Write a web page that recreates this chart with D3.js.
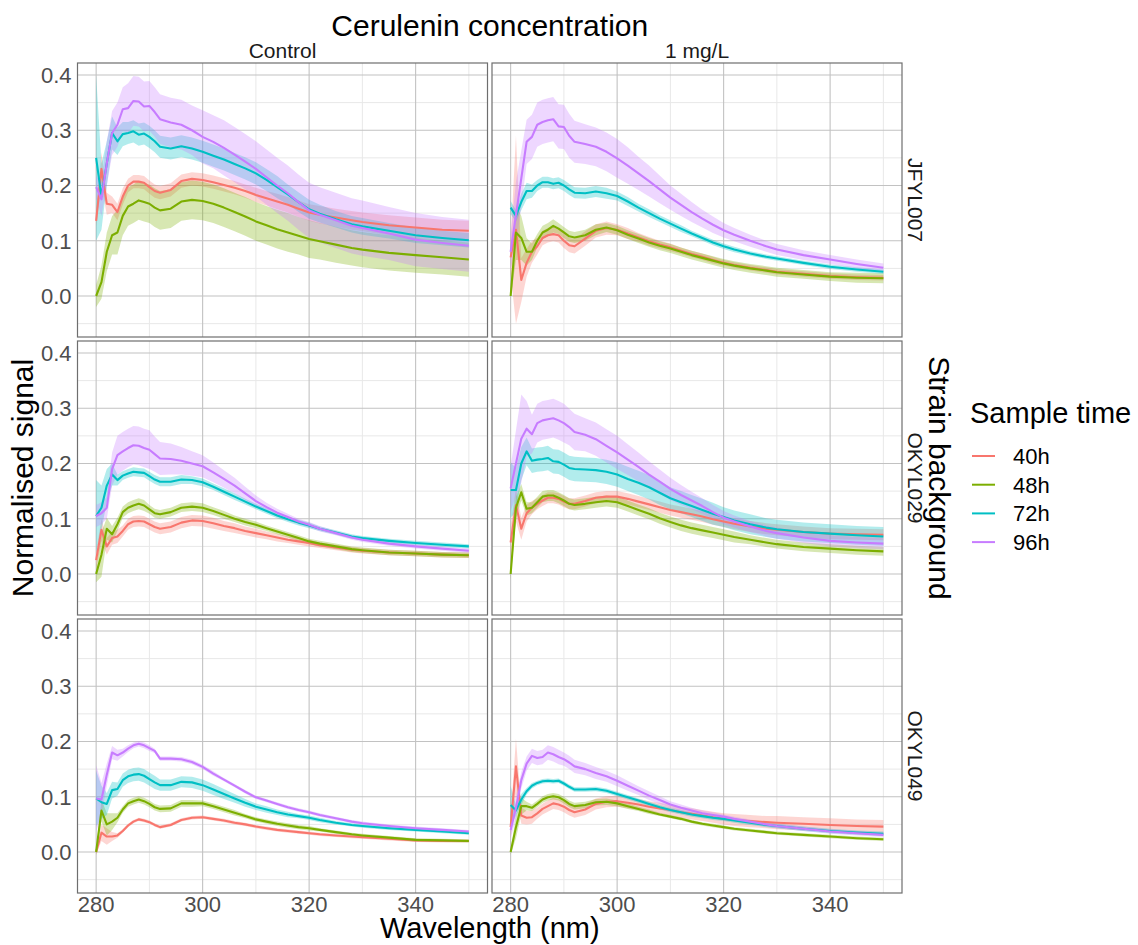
<!DOCTYPE html>
<html>
<head>
<meta charset="utf-8">
<script src="https://cdn.jsdelivr.net/npm/d3@7"></script>
<style>
  body { margin: 0; background: #fff; }
  svg { font-family: "Liberation Sans", Arial, sans-serif; }
</style>
</head>
<body>
<svg id="chart" width="1138" height="945"></svg>
<script>
// wavelength grid (nm)
const wavelength = [280,281,282,283,284,285,286,287,288,289,290,291,292,294,296,298,
  300,302,304,306,308,310,312,314,316,318,320,322,325,328,330,335,340,345,350];

const sampleTimes = ["40h", "48h", "72h", "96h"];
const concentrations = ["Control", "1 mg/L"];
const strains = ["JFYL007", "OKYL029", "OKYL049"];
const xTicks = [280, 300, 320, 340];
const yTicks = [0, 0.1, 0.2, 0.3, 0.4];

// mean signal, one row per sample time (40h, 48h, 72h, 96h)
const jfyl007Control = [
  [0.136,0.23,0.167,0.165,0.152,0.18,0.2,0.207,0.207,0.205,0.197,0.19,0.187,0.192,0.208,0.212,
   0.21,0.206,0.201,0.196,0.19,0.183,0.177,0.171,0.165,0.158,0.151,0.147,0.142,0.137,0.134,0.128,0.124,0.12,0.118],
  [0,0.025,0.08,0.11,0.115,0.145,0.162,0.167,0.173,0.17,0.167,0.16,0.155,0.158,0.171,0.174,
   0.172,0.167,0.16,0.152,0.144,0.135,0.128,0.121,0.115,0.109,0.103,0.099,0.093,0.087,0.084,0.078,0.074,0.07,0.066],
  [0.25,0.18,0.24,0.295,0.28,0.293,0.295,0.298,0.292,0.294,0.288,0.28,0.27,0.267,0.271,0.267,
   0.261,0.254,0.247,0.239,0.231,0.222,0.21,0.197,0.184,0.17,0.157,0.149,0.139,0.13,0.126,0.118,0.11,0.105,0.101],
  [0.197,0.175,0.24,0.295,0.31,0.338,0.34,0.353,0.352,0.343,0.344,0.333,0.32,0.314,0.31,0.3,
   0.288,0.279,0.268,0.256,0.243,0.23,0.215,0.2,0.186,0.17,0.155,0.147,0.137,0.127,0.123,0.113,0.102,0.096,0.091]
];
const jfyl007ControlBand = [
  [0.01,0.03,0.02,0.015,0.015,0.015,0.012,0.012,0.012,0.012,0.012,0.012,0.012,0.012,0.012,0.012,
   0.012,0.012,0.012,0.012,0.012,0.013,0.013,0.014,0.014,0.015,0.015,0.016,0.016,0.017,0.017,0.018,0.018,0.018,0.018],
  [0.02,0.03,0.035,0.035,0.04,0.035,0.035,0.035,0.035,0.035,0.035,0.035,0.035,0.035,0.035,0.035,
   0.035,0.035,0.035,0.035,0.035,0.035,0.035,0.035,0.035,0.034,0.034,0.033,0.033,0.032,0.032,0.032,0.032,0.031,0.031],
  [0.15,0.06,0.04,0.03,0.025,0.022,0.02,0.02,0.02,0.02,0.02,0.02,0.02,0.02,0.02,0.02,
   0.02,0.02,0.02,0.02,0.02,0.02,0.02,0.02,0.018,0.018,0.017,0.016,0.015,0.015,0.015,0.014,0.014,0.013,0.013],
  [0.02,0.03,0.04,0.04,0.04,0.04,0.045,0.045,0.045,0.045,0.045,0.045,0.045,0.045,0.045,0.045,
   0.048,0.048,0.05,0.05,0.05,0.05,0.05,0.05,0.05,0.05,0.05,0.05,0.05,0.05,0.05,0.048,0.048,0.047,0.047]
];

const jfyl007Cer = [
  [0.07,0.12,0.029,0.06,0.08,0.09,0.105,0.11,0.112,0.11,0.1,0.092,0.09,0.104,0.118,0.123,
   0.12,0.113,0.106,0.099,0.093,0.088,0.082,0.076,0.071,0.065,0.06,0.056,0.051,0.047,0.044,0.04,0.036,0.034,0.033],
  [0,0.115,0.105,0.08,0.08,0.1,0.115,0.12,0.127,0.122,0.115,0.108,0.106,0.11,0.12,0.124,
   0.119,0.111,0.104,0.097,0.091,0.086,0.08,0.074,0.069,0.064,0.059,0.055,0.05,0.046,0.043,0.039,0.035,0.033,0.032],
  [0.16,0.145,0.17,0.19,0.19,0.2,0.206,0.206,0.203,0.205,0.2,0.193,0.187,0.186,0.189,0.186,
   0.181,0.171,0.16,0.15,0.14,0.131,0.122,0.113,0.105,0.097,0.09,0.084,0.077,0.071,0.068,0.06,0.053,0.048,0.044],
  [0.08,0.147,0.213,0.279,0.288,0.31,0.315,0.318,0.32,0.307,0.306,0.29,0.279,0.275,0.27,0.261,
   0.249,0.236,0.222,0.208,0.193,0.178,0.165,0.152,0.14,0.129,0.119,0.111,0.1,0.09,0.084,0.074,0.066,0.058,0.051]
];
const jfyl007CerBand = [
  [0.03,0.17,0.04,0.025,0.02,0.015,0.013,0.013,0.013,0.013,0.013,0.013,0.013,0.013,0.012,0.012,
   0.01,0.01,0.008,0.008,0.007,0.007,0.006,0.006,0.006,0.006,0.005,0.005,0.005,0.005,0.005,0.005,0.005,0.005,0.005],
  [0.005,0.05,0.04,0.025,0.015,0.012,0.012,0.012,0.012,0.01,0.01,0.01,0.01,0.01,0.01,0.008,
   0.008,0.008,0.008,0.008,0.008,0.008,0.008,0.008,0.008,0.008,0.008,0.008,0.008,0.008,0.008,0.008,0.008,0.009,0.009],
  [0.012,0.01,0.015,0.015,0.012,0.01,0.01,0.01,0.01,0.01,0.01,0.01,0.01,0.01,0.01,0.01,
   0.008,0.008,0.007,0.007,0.006,0.006,0.006,0.005,0.005,0.005,0.005,0.005,0.004,0.004,0.004,0.004,0.004,0.004,0.004],
  [0.03,0.06,0.05,0.04,0.04,0.04,0.04,0.04,0.04,0.04,0.04,0.04,0.038,0.036,0.035,0.035,
   0.035,0.033,0.03,0.028,0.025,0.022,0.02,0.018,0.016,0.015,0.013,0.012,0.011,0.01,0.01,0.009,0.008,0.008,0.008]
];

const okyl029Control = [
  [0.025,0.08,0.05,0.065,0.068,0.078,0.09,0.095,0.096,0.095,0.09,0.085,0.082,0.085,0.093,0.097,
   0.096,0.092,0.087,0.083,0.078,0.074,0.07,0.066,0.062,0.059,0.056,0.052,0.048,0.044,0.042,0.039,0.037,0.035,0.034],
  [0,0.035,0.082,0.072,0.09,0.112,0.12,0.124,0.127,0.124,0.117,0.11,0.108,0.112,0.12,0.122,
   0.12,0.114,0.107,0.1,0.094,0.089,0.083,0.077,0.071,0.065,0.059,0.055,0.05,0.045,0.043,0.039,0.037,0.035,0.034],
  [0.105,0.12,0.16,0.18,0.17,0.178,0.182,0.185,0.184,0.183,0.177,0.171,0.167,0.167,0.171,0.17,
   0.166,0.158,0.149,0.14,0.131,0.122,0.114,0.106,0.099,0.093,0.088,0.082,0.075,0.068,0.065,0.06,0.056,0.053,0.05],
  [0.105,0.11,0.12,0.19,0.215,0.222,0.228,0.233,0.232,0.228,0.225,0.217,0.209,0.208,0.205,0.2,
   0.195,0.184,0.172,0.16,0.146,0.132,0.121,0.111,0.103,0.095,0.089,0.082,0.074,0.066,0.062,0.055,0.05,0.046,0.042]
];
const okyl029ControlBand = [
  [0.015,0.02,0.015,0.012,0.012,0.01,0.01,0.01,0.01,0.01,0.01,0.01,0.01,0.01,0.01,0.01,
   0.01,0.01,0.009,0.009,0.008,0.008,0.007,0.007,0.006,0.006,0.006,0.005,0.005,0.005,0.005,0.005,0.005,0.005,0.005],
  [0.015,0.04,0.02,0.015,0.012,0.01,0.01,0.01,0.01,0.01,0.008,0.008,0.008,0.008,0.008,0.008,
   0.008,0.007,0.007,0.006,0.006,0.006,0.005,0.005,0.005,0.005,0.005,0.005,0.005,0.005,0.005,0.005,0.005,0.005,0.005],
  [0.065,0.04,0.03,0.02,0.01,0.008,0.008,0.008,0.008,0.008,0.008,0.008,0.008,0.008,0.008,0.007,
   0.007,0.006,0.006,0.006,0.005,0.005,0.005,0.005,0.005,0.005,0.005,0.004,0.004,0.004,0.004,0.004,0.004,0.004,0.004],
  [0.02,0.02,0.02,0.03,0.035,0.035,0.035,0.035,0.035,0.035,0.035,0.032,0.03,0.028,0.025,0.022,
   0.02,0.018,0.016,0.014,0.012,0.01,0.008,0.007,0.006,0.005,0.005,0.005,0.004,0.004,0.004,0.004,0.004,0.004,0.004]
];

const okyl029Cer = [
  [0.057,0.125,0.082,0.11,0.12,0.127,0.133,0.138,0.138,0.136,0.131,0.127,0.127,0.132,0.138,0.14,
   0.14,0.136,0.131,0.126,0.121,0.116,0.112,0.108,0.104,0.099,0.095,0.091,0.086,0.082,0.08,0.076,0.073,0.072,0.071],
  [0,0.12,0.148,0.118,0.12,0.13,0.14,0.142,0.142,0.138,0.133,0.127,0.125,0.127,0.13,0.132,
   0.13,0.123,0.116,0.109,0.101,0.094,0.088,0.083,0.079,0.075,0.071,0.067,0.062,0.057,0.054,0.049,0.046,0.043,0.041],
  [0.152,0.152,0.2,0.222,0.205,0.207,0.208,0.21,0.204,0.203,0.198,0.192,0.19,0.189,0.188,0.185,
   0.18,0.172,0.165,0.157,0.147,0.137,0.13,0.123,0.116,0.109,0.103,0.097,0.09,0.084,0.081,0.076,0.073,0.07,0.068],
  [0.155,0.2,0.245,0.263,0.253,0.273,0.278,0.28,0.282,0.278,0.273,0.266,0.257,0.252,0.244,0.232,
   0.22,0.207,0.194,0.18,0.167,0.154,0.143,0.133,0.123,0.112,0.102,0.095,0.086,0.078,0.074,0.066,0.06,0.057,0.055]
];
const okyl029CerBand = [
  [0.03,0.03,0.02,0.015,0.012,0.01,0.01,0.01,0.01,0.01,0.01,0.01,0.01,0.01,0.01,0.01,
   0.01,0.01,0.01,0.01,0.01,0.01,0.01,0.01,0.01,0.01,0.01,0.01,0.01,0.01,0.01,0.01,0.01,0.01,0.01],
  [0.01,0.02,0.015,0.012,0.01,0.01,0.01,0.01,0.01,0.01,0.01,0.01,0.01,0.01,0.01,0.01,
   0.01,0.01,0.01,0.01,0.01,0.01,0.01,0.01,0.01,0.01,0.01,0.01,0.008,0.008,0.008,0.008,0.008,0.008,0.008],
  [0.05,0.04,0.03,0.025,0.022,0.022,0.022,0.022,0.022,0.022,0.022,0.022,0.022,0.022,0.022,0.022,
   0.022,0.022,0.022,0.022,0.022,0.02,0.02,0.02,0.02,0.02,0.018,0.018,0.018,0.017,0.017,0.017,0.017,0.017,0.017],
  [0.04,0.06,0.08,0.05,0.035,0.035,0.035,0.035,0.035,0.035,0.035,0.033,0.033,0.03,0.03,0.03,
   0.03,0.028,0.026,0.024,0.022,0.02,0.018,0.016,0.014,0.013,0.012,0.011,0.01,0.01,0.01,0.01,0.01,0.01,0.01]
];

const okyl049Control = [
  [0,0.035,0.028,0.028,0.03,0.038,0.048,0.055,0.059,0.057,0.054,0.049,0.045,0.049,0.058,0.062,
   0.063,0.06,0.057,0.053,0.05,0.046,0.043,0.04,0.038,0.036,0.034,0.032,0.03,0.028,0.027,0.024,0.021,0.02,0.02],
  [0,0.075,0.05,0.055,0.062,0.077,0.088,0.092,0.095,0.092,0.087,0.081,0.078,0.079,0.088,0.088,
   0.088,0.083,0.077,0.071,0.065,0.059,0.055,0.051,0.048,0.045,0.043,0.04,0.036,0.032,0.03,0.026,0.022,0.021,0.02],
  [0.097,0.09,0.087,0.112,0.114,0.13,0.137,0.14,0.141,0.138,0.132,0.126,0.121,0.121,0.127,0.126,
   0.121,0.113,0.105,0.097,0.089,0.082,0.077,0.072,0.068,0.065,0.062,0.058,0.053,0.049,0.047,0.043,0.04,0.037,0.034],
  [0.097,0.095,0.14,0.18,0.175,0.18,0.187,0.193,0.196,0.193,0.188,0.183,0.169,0.169,0.168,0.163,
   0.154,0.142,0.131,0.12,0.109,0.099,0.093,0.087,0.081,0.076,0.072,0.067,0.061,0.055,0.052,0.047,0.043,0.04,0.037]
];
const okyl049ControlBand = [
  [0.005,0.015,0.015,0.008,0.004,0.003,0.003,0.003,0.003,0.003,0.003,0.003,0.003,0.003,0.003,0.003,
   0.003,0.003,0.003,0.003,0.003,0.003,0.003,0.003,0.003,0.003,0.003,0.003,0.003,0.003,0.003,0.003,0.003,0.003,0.003],
  [0.005,0.02,0.02,0.015,0.008,0.006,0.006,0.006,0.006,0.006,0.006,0.006,0.006,0.006,0.006,0.006,
   0.005,0.005,0.005,0.005,0.004,0.004,0.004,0.004,0.004,0.004,0.004,0.003,0.003,0.003,0.003,0.003,0.003,0.003,0.003],
  [0.05,0.03,0.02,0.015,0.012,0.012,0.012,0.012,0.012,0.012,0.012,0.012,0.01,0.01,0.01,0.01,
   0.01,0.01,0.009,0.008,0.007,0.006,0.006,0.005,0.005,0.004,0.004,0.004,0.003,0.003,0.003,0.003,0.003,0.003,0.003],
  [0.06,0.03,0.02,0.012,0.01,0.007,0.006,0.005,0.005,0.005,0.005,0.004,0.004,0.004,0.004,0.004,
   0.004,0.004,0.003,0.003,0.003,0.003,0.003,0.003,0.003,0.003,0.003,0.003,0.003,0.003,0.003,0.003,0.003,0.003,0.003]
];

const okyl049Cer = [
  [0.045,0.155,0.066,0.062,0.063,0.07,0.078,0.083,0.088,0.086,0.082,0.076,0.072,0.077,0.087,0.091,
   0.092,0.089,0.086,0.082,0.079,0.076,0.072,0.069,0.066,0.063,0.06,0.058,0.056,0.054,0.053,0.051,0.049,0.047,0.046],
  [0,0.045,0.083,0.083,0.08,0.087,0.095,0.099,0.101,0.099,0.094,0.087,0.083,0.085,0.09,0.091,
   0.088,0.083,0.078,0.073,0.068,0.064,0.06,0.055,0.051,0.048,0.045,0.042,0.039,0.036,0.034,0.031,0.028,0.025,0.023],
  [0.085,0.075,0.095,0.11,0.12,0.125,0.128,0.129,0.128,0.129,0.124,0.118,0.113,0.113,0.114,0.111,
   0.105,0.099,0.093,0.087,0.081,0.076,0.072,0.068,0.065,0.062,0.06,0.057,0.053,0.049,0.047,0.042,0.038,0.035,0.033],
  [0.04,0.08,0.13,0.16,0.174,0.17,0.172,0.18,0.177,0.172,0.168,0.162,0.155,0.15,0.143,0.137,
   0.129,0.12,0.111,0.102,0.094,0.086,0.08,0.075,0.07,0.067,0.064,0.06,0.055,0.05,0.047,0.042,0.037,0.034,0.031]
];
const okyl049CerBand = [
  [0.02,0.05,0.015,0.012,0.012,0.01,0.01,0.01,0.01,0.01,0.01,0.01,0.01,0.01,0.01,0.01,
   0.01,0.01,0.01,0.01,0.01,0.01,0.01,0.01,0.01,0.01,0.01,0.011,0.011,0.011,0.012,0.012,0.012,0.012,0.012],
  [0.005,0.02,0.015,0.008,0.006,0.006,0.006,0.006,0.006,0.006,0.006,0.006,0.006,0.006,0.006,0.006,
   0.005,0.005,0.004,0.004,0.003,0.003,0.003,0.003,0.003,0.003,0.003,0.003,0.003,0.003,0.003,0.003,0.003,0.003,0.003],
  [0.035,0.01,0.01,0.006,0.005,0.004,0.004,0.004,0.004,0.004,0.004,0.004,0.004,0.004,0.004,0.004,
   0.004,0.004,0.004,0.004,0.004,0.004,0.004,0.004,0.004,0.004,0.004,0.004,0.004,0.004,0.004,0.004,0.004,0.004,0.004],
  [0.015,0.02,0.015,0.013,0.013,0.013,0.013,0.013,0.013,0.013,0.012,0.012,0.012,0.011,0.011,0.01,
   0.01,0.009,0.008,0.008,0.007,0.006,0.006,0.005,0.005,0.005,0.004,0.004,0.004,0.004,0.004,0.004,0.004,0.004,0.004]
];

// panels laid out as strain (row) x concentration (column)
const panels = [
  [[jfyl007Control, jfyl007ControlBand], [jfyl007Cer, jfyl007CerBand]],
  [[okyl029Control, okyl029ControlBand], [okyl029Cer, okyl029CerBand]],
  [[okyl049Control, okyl049ControlBand], [okyl049Cer, okyl049CerBand]]
];

const colors = ["#F8766D", "#7CAE00", "#00BFC4", "#C77CFF"];

const left0 = 77.5, top0 = 63;
const panelW = 410, panelH = 274, gapX = 4.5, gapY = 4;

const svg = d3.select("#chart");
const color = d3.scaleOrdinal().domain(sampleTimes).range(colors);
const x = d3.scaleLinear().domain([276.5, 353.5]).range([0, panelW]);
const y = d3.scaleLinear().domain([-0.0742, 0.4217]).range([panelH, 0]);

const defs = svg.append("defs");
defs.append("clipPath").attr("id", "panel-clip")
  .append("rect").attr("width", panelW).attr("height", panelH);

const line = d3.line()
  .x((d, i) => x(wavelength[i]))
  .y(d => y(d));

strains.forEach((strain, r) => {
  concentrations.forEach((conc, c) => {
    const [means, bands] = panels[r][c];
    const px = left0 + c * (panelW + gapX);
    const py = top0 + r * (panelH + gapY);
    const g = svg.append("g").attr("transform", `translate(${px},${py})`);

    // minor grid
    [290, 310, 330, 350].forEach(v => {
      g.append("line").attr("x1", x(v)).attr("x2", x(v)).attr("y1", 0).attr("y2", panelH)
        .attr("stroke", "#e8e8e8").attr("stroke-width", 1);
    });
    [-0.05, 0.05, 0.15, 0.25, 0.35].forEach(v => {
      g.append("line").attr("x1", 0).attr("x2", panelW).attr("y1", y(v)).attr("y2", y(v))
        .attr("stroke", "#e8e8e8").attr("stroke-width", 1);
    });
    // major grid
    xTicks.forEach(v => {
      g.append("line").attr("x1", x(v)).attr("x2", x(v)).attr("y1", 0).attr("y2", panelH)
        .attr("stroke", "#c2c2c2").attr("stroke-width", 1.1);
    });
    yTicks.forEach(v => {
      g.append("line").attr("x1", 0).attr("x2", panelW).attr("y1", y(v)).attr("y2", y(v))
        .attr("stroke", "#c2c2c2").attr("stroke-width", 1.1);
    });

    const plot = g.append("g").attr("clip-path", "url(#panel-clip)");

    means.forEach((m, k) => {
      const area = d3.area()
        .x((d, i) => x(wavelength[i]))
        .y0((d, i) => y(m[i] - bands[k][i]))
        .y1((d, i) => y(m[i] + bands[k][i]));
      plot.append("path").datum(m)
        .attr("d", area)
        .attr("fill", color(sampleTimes[k]))
        .attr("fill-opacity", 0.3);
    });
    means.forEach((m, k) => {
      plot.append("path").datum(m)
        .attr("d", line)
        .attr("fill", "none")
        .attr("stroke", color(sampleTimes[k]))
        .attr("stroke-width", 2.1)
        .attr("stroke-linejoin", "round");
    });

    g.append("rect").attr("width", panelW).attr("height", panelH)
      .attr("fill", "none").attr("stroke", "#6e6e6e").attr("stroke-width", 1.2);

    if (c === 0) {
      yTicks.forEach(v => {
        g.append("text").attr("x", -6).attr("y", y(v)).attr("dy", "0.36em")
          .attr("text-anchor", "end").attr("fill", "#4d4d4d")
          .style("font-size", "22px").text(d3.format(".1f")(v));
      });
    }
    if (r === strains.length - 1) {
      xTicks.forEach(v => {
        g.append("text").attr("x", x(v)).attr("y", panelH + 19)
          .attr("text-anchor", "middle").attr("fill", "#4d4d4d")
          .style("font-size", "22px").text(v);
      });
    }
    if (r === 0) {
      g.append("text").attr("x", panelW / 2).attr("y", -5)
        .attr("text-anchor", "middle").attr("fill", "#1a1a1a")
        .style("font-size", "21px").text(conc);
    }
    if (c === concentrations.length - 1) {
      g.append("text")
        .attr("transform", `translate(${panelW + 6},${panelH / 2}) rotate(90)`)
        .attr("text-anchor", "middle").attr("fill", "#1a1a1a")
        .style("font-size", "21px").text(strain);
    }
  });
});

const panelsRight = left0 + 2 * panelW + gapX;
const panelsBottom = top0 + 3 * panelH + 2 * gapY;
const midX = (left0 + panelsRight) / 2;
const midY = (top0 + panelsBottom) / 2;

svg.append("text").attr("x", midX).attr("y", 36)
  .attr("text-anchor", "middle").style("font-size", "30px")
  .text("Cerulenin concentration");

svg.append("text").attr("x", midX).attr("y", 938)
  .attr("text-anchor", "middle").style("font-size", "29px")
  .text("Wavelength (nm)");

svg.append("text")
  .attr("transform", `translate(33,${midY}) rotate(-90)`)
  .attr("text-anchor", "middle").style("font-size", "30px")
  .text("Normalised signal");

svg.append("text")
  .attr("transform", `translate(929,${midY}) rotate(90)`)
  .attr("text-anchor", "middle").style("font-size", "30px")
  .text("Strain background");

// legend
const legend = svg.append("g").attr("transform", "translate(970,0)");
legend.append("text").attr("x", 0).attr("y", 423)
  .style("font-size", "29px").text("Sample time");
sampleTimes.forEach((t, i) => {
  const ly = 456 + i * 28.7;
  legend.append("line").attr("x1", 2).attr("x2", 25).attr("y1", ly).attr("y2", ly)
    .attr("stroke", color(t)).attr("stroke-width", 2);
  legend.append("text").attr("x", 43).attr("y", ly).attr("dy", "0.36em")
    .style("font-size", "22px").text(t);
});
</script>
</body>
</html>
